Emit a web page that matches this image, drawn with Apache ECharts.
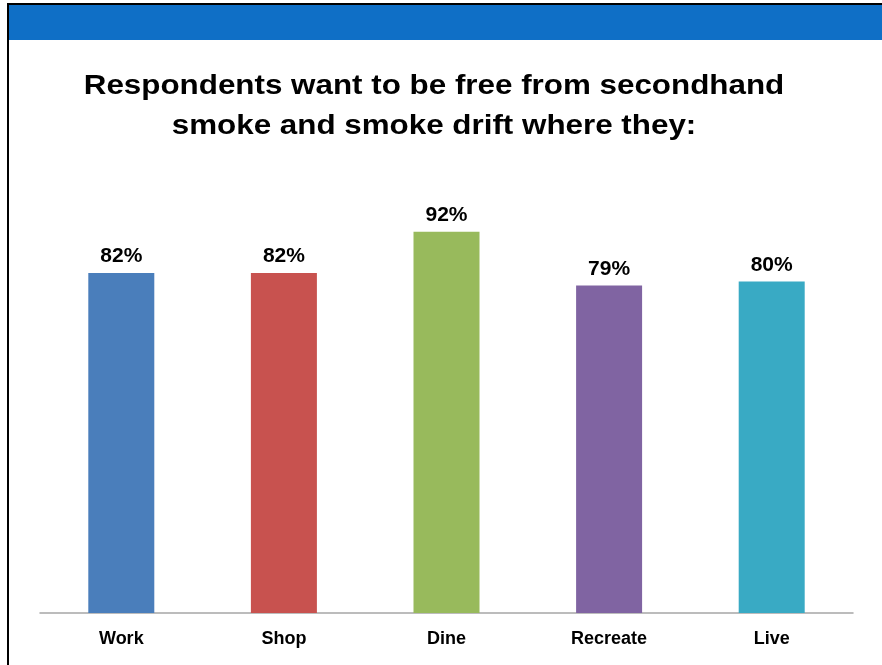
<!DOCTYPE html>
<html>
<head>
<meta charset="utf-8">
<script src="https://cdn.jsdelivr.net/npm/echarts@6/dist/echarts.min.js"></script>
<style>
  html, body { margin: 0; padding: 0; background: #fff; }
  #chart { width: 882px; height: 665px; }
</style>
</head>
<body>
<div id="chart"></div>
<script>
// Places where respondents want to be free from smoke, and share agreeing (%)
const categories = ['Work', 'Shop', 'Dine', 'Recreate', 'Live'];
const values = [82, 82, 92, 79, 80];
const barColors = ['#4A7EBB', '#C8524F', '#98BA5C', '#8064A2', '#39AAC4'];
const titleText = 'Respondents want to be free from secondhand\nsmoke and smoke drift where they:';

const chart = echarts.init(document.getElementById('chart'), null, { renderer: 'canvas' });

chart.setOption({
  backgroundColor: '#ffffff',
  animation: false,
  graphic: [
    // slide header band and frame
    { type: 'rect', shape: { x: 9, y: 5, width: 873, height: 35 }, style: { fill: '#0F6FC6' }, silent: true },
    { type: 'rect', shape: { x: 7, y: 3, width: 875, height: 2 }, style: { fill: '#000000' }, silent: true },
    { type: 'rect', shape: { x: 7, y: 3, width: 2, height: 662 }, style: { fill: '#000000' }, silent: true },
    // two-line heading, slightly widened letterforms
    {
      type: 'text',
      x: 434,
      y: 66,
      scaleX: 1.12,
      silent: true,
      style: {
        text: titleText,
        textAlign: 'center',
        textVerticalAlign: 'top',
        fontFamily: 'Liberation Sans, Arial, sans-serif',
        fontWeight: 'bold',
        fontSize: 28,
        lineHeight: 40,
        fill: '#000000'
      }
    }
  ],
  grid: {
    left: 40,
    right: 29,
    top: 198.5,
    bottom: 52,
    containLabel: false
  },
  xAxis: {
    type: 'category',
    data: categories,
    axisLine: { show: true, lineStyle: { color: '#A6A6A6', width: 1.5 } },
    axisTick: { show: false },
    axisLabel: {
      margin: 17,
      fontFamily: 'Liberation Sans, Arial, sans-serif',
      fontWeight: 'bold',
      fontSize: 18,
      color: '#000000'
    }
  },
  yAxis: {
    type: 'value',
    min: 0,
    max: 100,
    show: false,
    splitLine: { show: false }
  },
  series: [{
    type: 'bar',
    barWidth: 66,
    data: values.map((v, i) => ({ value: v, itemStyle: { color: barColors[i] } })),
    label: {
      show: true,
      position: 'top',
      distance: 6,
      formatter: '{c}%',
      fontFamily: 'Liberation Sans, Arial, sans-serif',
      fontWeight: 'bold',
      fontSize: 21,
      color: '#000000'
    }
  }]
});
</script>
</body>
</html>
